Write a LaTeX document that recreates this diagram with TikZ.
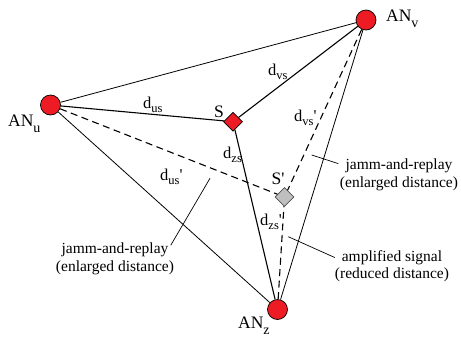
\documentclass[tikz,border=0pt]{standalone}
\usepackage{fontspec}
\newfontfamily\figfont{Liberation Serif}
\usetikzlibrary{shapes.geometric, positioning}
\definecolor{anred}{HTML}{ED1C24}
\definecolor{sgray}{HTML}{BFBFBF}
\definecolor{sborder}{HTML}{505050}
\newcommand{\dsub}[1]{\raisebox{-4.5pt}{\fontsize{12.5}{12.5}\selectfont #1}}
\newcommand{\ansub}[1]{\raisebox{-6pt}{\fontsize{14}{14}\selectfont #1}}

\begin{document}
\begin{tikzpicture}[x=1pt, y=-1pt,
  font=\figfont\fontsize{15.5}{17.5}\selectfont,
  an/.style={circle, draw=black, line width=0.7pt, fill=anred,
    minimum size=20pt, inner sep=0pt},
  sdiam/.style={diamond, draw=black, line width=0.7pt, fill=anred,
    minimum size=19pt, inner sep=0pt},
  sfake/.style={sdiam, draw=sborder, fill=sgray},
  edge/.style={line width=0.8pt},
  realpath/.style={line width=1.1pt},
  fakepath/.style={line width=1.1pt, dash pattern=on 7pt off 4.5pt},
  leader/.style={line width=0.7pt},
  lbl/.style={inner sep=0pt, anchor=base west},
  anlbl/.style={lbl, font=\figfont\fontsize{17.5}{20}\selectfont},
  dlbl/.style={lbl, font=\figfont\fontsize{16.5}{19}\selectfont},
  note/.style={inner sep=0pt, align=center}]
  \useasboundingbox (0,0) rectangle (461,341);

  % Anchor nodes and positions
  \node[an] (anu) at (50.5,105) {};
  \node[an] (anv) at (366,20) {};
  \node[an] (anz) at (277.5,309.5) {};
  \node[sdiam] (s) at (233,121.7) {};
  \node[sfake] (sp) at (284.5,197) {};

  % Edges between anchor nodes
  \foreach \a/\b in {anu/anv, anu/anz, anv/anz}
    \draw[edge] (\a) -- (\b);

  % True distances to S
  \foreach \a in {anu, anv, anz}
    \draw[realpath] (\a) -- (s);

  % Manipulated distances to S'
  \foreach \a in {anu, anv, anz}
    \draw[fakepath] (\a) -- (sp);

  % Node labels
  \node[anlbl] (anulbl) at (8,126) {AN\ansub{u}};
  \node[anlbl] (anvlbl) at (386,21) {AN\ansub{v}};
  \node[anlbl] (anzlbl) at (238,328) {AN\ansub{z}};
  \node[anlbl] (slbl) at (214,117) {S};
  \node[anlbl] (splbl) at (271.5,184) {S'};

  % Distance labels
  \node[dlbl] (dus) at (143,108) {d\dsub{us}};
  \node[dlbl] (dvs) at (268,75) {d\dsub{vs}};
  \node[dlbl] (dzs) at (223,158) {d\dsub{zs}};
  \node[dlbl] (dusp) at (160,180) {d\dsub{us}'};
  \node[dlbl] (dvsp) at (294,121) {d\dsub{vs}'};
  \node[dlbl] (dzsp) at (260,225) {d\dsub{zs}'};

  % Annotations
  \node[note] (jrleft) at (115,258.7) {jamm-and-replay\\(enlarged distance)};
  \node[note] (jrright) at (399,175) {jamm-and-replay\\(enlarged distance)};
  \node[note] (amp) at (392,266) {amplified signal\\(reduced distance)};

  \coordinate (tipl) at (210,178.3);
  \coordinate (tipr) at (311.7,155);
  \coordinate (tipa) at (288.3,236.7);

  \draw[leader] ([xshift=-3.5pt,yshift=-2.6pt]jrleft.north east) -- (tipl);
  \draw[leader] ([xshift=-1.5pt,yshift=-4.6pt]jrright.north west) -- (tipr);
  \draw[leader] ([yshift=-7.6pt]amp.north west) -- (tipa);
\end{tikzpicture}
\end{document}
